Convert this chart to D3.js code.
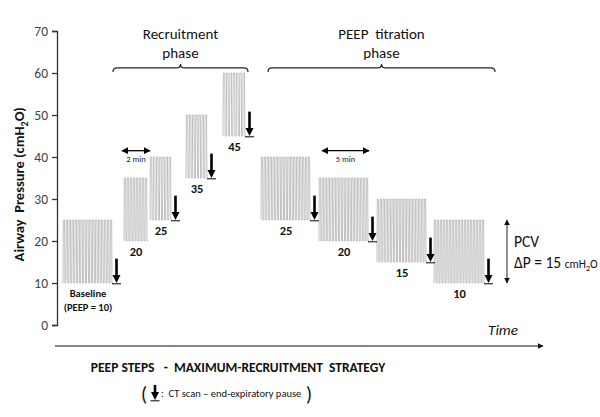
<!DOCTYPE html>
<html><head><meta charset="utf-8">
<script src="https://cdn.jsdelivr.net/npm/d3@7"></script>
<style>
html,body{margin:0;padding:0;background:#fff;}
svg{display:block;font-family:Carlito,Calibri,Lato,"Open Sans",sans-serif;}
text{white-space:pre;}
</style></head>
<body>
<script>
// ---- data ----
const yTicks = [0, 10, 20, 30, 40, 50, 60, 70];
const blockLabels = ["Baseline", "20", "25", "35", "45", "25", "20", "15", "10"];
const peepValues = [10, 20, 25, 35, 45, 25, 20, 15, 10];
const peakValues = [25, 35, 40, 50, 60, 40, 35, 30, 25];
const blockStart = [0.6, 6.7, 9.3, 12.9, 16.6, 20.4, 26.2, 32.0, 37.7];
const blockEnd = [5.6, 9.1, 11.5, 15.1, 18.9, 25.4, 31.2, 37.0, 42.8];
const breaths = [17, 8, 7, 7, 7, 17, 17, 17, 17];
const ctScan = [true, false, true, true, true, true, true, true, true];
const phaseNames = [["Recruitment", "phase"], ["PEEP  titration", "phase"]];
const phaseStart = [5.6, 21.1];
const phaseEnd = [19.1, 43.8];
const durLabels = ["2 min", "5 min"];
const durStart = [6.5, 26.5];
const durEnd = [9.3, 31.2];

const W = 600, H = 417;
const svg = d3.select("body").append("svg").attr("width", W).attr("height", H);

const x = d3.scaleLinear().domain([0, 48.6]).range([57, 543]);
const y = d3.scaleLinear().domain([0, 70]).range([325, 31]);

// y axis
const yAxis = d3.axisLeft(y).tickValues(yTicks).tickSize(5).tickPadding(4);
const gy = svg.append("g").attr("transform", `translate(${x(0)},0)`).call(yAxis);
gy.select(".domain").attr("stroke", "#333").attr("stroke-width", 1.3);
gy.selectAll(".tick line").attr("stroke", "#333").attr("stroke-width", 1.3);
gy.selectAll(".tick text").attr("fill", "#444").style("font-size", "13.5px").style("font-family", "Carlito,Calibri,Lato,sans-serif");

// y label
const yl = svg.append("text").attr("transform", `translate(24,${y(33.5)}) rotate(-90)`)
  .attr("text-anchor", "middle").attr("font-weight", "bold").attr("font-size", 14.5).attr("fill", "#111");
yl.append("tspan").text("Airway  Pressure (cmH");
yl.append("tspan").attr("font-size", 10).attr("dy", 4).text("2");
yl.append("tspan").attr("dy", -4).text("O)");

// waveforms
const g = svg.append("g");
peepValues.forEach((p, i) => {
  const x0 = x(blockStart[i]), x1 = x(blockEnd[i]);
  const n = breaths[i];
  const per = (x1 - x0) / n;
  const lo = y(p), hi = y(peakValues[i]);
  const path = d3.path();
  path.moveTo(x0, lo);
  for (let k = 0; k < n; k++) {
    const a = x0 + k * per;
    path.lineTo(a + per * 0.1, hi);
    path.lineTo(a + per * 0.55, hi);
    path.lineTo(a + per * 0.65, lo);
    path.lineTo(a + per, lo);
  }
  g.append("path").attr("d", path.toString()).attr("fill", "none")
    .attr("stroke", "#b0b0b0").attr("stroke-width", 0.8);

  // label
  const cx = (x0 + x1) / 2;
  if (i === 0) {
    svg.append("text").attr("x", cx).attr("y", lo + 14).attr("text-anchor", "middle")
      .attr("font-weight", "bold").attr("font-size", 10.5).attr("fill", "#111").text(blockLabels[i]);
    svg.append("text").attr("x", cx).attr("y", lo + 28).attr("text-anchor", "middle")
      .attr("font-weight", "bold").attr("font-size", 10.5).attr("fill", "#111").text("(PEEP = 10)");
  } else {
    svg.append("text").attr("x", cx).attr("y", lo + 15).attr("text-anchor", "middle")
      .attr("font-weight", "bold").attr("font-size", 12.5).attr("fill", "#111").text(blockLabels[i]);
  }

  // CT scan arrow
  if (ctScan[i]) {
    const ax = x1 + 3.5;
    drawCT(ax, lo, y(p + 5.8));
  }
});

function drawCT(ax, base, top) {
  svg.append("line").attr("x1", ax).attr("x2", ax).attr("y1", top).attr("y2", base - 6)
    .attr("stroke", "#000").attr("stroke-width", 2.6);
  svg.append("path").attr("d", `M${ax - 4},${base - 8}L${ax + 4},${base - 8}L${ax},${base}Z`).attr("fill", "#000");
  svg.append("line").attr("x1", ax - 4.5).attr("x2", ax + 4.5).attr("y1", base + 0.8).attr("y2", base + 0.8)
    .attr("stroke", "#000").attr("stroke-width", 1);
}

// phase braces
phaseNames.forEach((nm, i) => {
  const a = x(phaseStart[i]), b = x(phaseEnd[i]), m = (a + b) / 2;
  const yb = y(61.2), r = 4;
  const d = `M${a},${yb + r} Q${a},${yb} ${a + r},${yb} L${m - r},${yb} Q${m},${yb} ${m},${yb - r} Q${m},${yb} ${m + r},${yb} L${b - r},${yb} Q${b},${yb} ${b},${yb + r}`;
  svg.append("path").attr("d", d).attr("fill", "none").attr("stroke", "#222").attr("stroke-width", 1.2);
  svg.append("text").attr("x", m).attr("y", y(68.2)).attr("text-anchor", "middle")
    .attr("font-size", 15).attr("fill", "#111").text(nm[0]);
  svg.append("text").attr("x", m).attr("y", y(63.6)).attr("text-anchor", "middle")
    .attr("font-size", 15).attr("fill", "#111").text(nm[1]);
});

// duration markers
const defs = svg.append("defs");
defs.append("marker").attr("id", "ah").attr("viewBox", "0 0 10 10").attr("refX", 9).attr("refY", 5)
  .attr("markerWidth", 7).attr("markerHeight", 7).attr("orient", "auto-start-reverse").attr("markerUnits", "userSpaceOnUse")
  .append("path").attr("d", "M0,0L10,5L0,10Z").attr("fill", "#000");
durLabels.forEach((lab, i) => {
  const a = x(durStart[i]), b = x(durEnd[i]);
  svg.append("line").attr("x1", a).attr("x2", b).attr("y1", y(41.5)).attr("y2", y(41.5))
    .attr("stroke", "#000").attr("stroke-width", 1.3)
    .attr("marker-start", "url(#ah)").attr("marker-end", "url(#ah)");
  svg.append("text").attr("x", (a + b) / 2).attr("y", y(38.8)).attr("text-anchor", "middle")
    .attr("font-size", 8.5).attr("fill", "#222").text(lab);
});

// PCV arrow (delta P from PEEP 10 to peak 25)
defs.append("marker").attr("id", "ah2").attr("viewBox", "0 0 10 10").attr("refX", 9).attr("refY", 5)
  .attr("markerWidth", 6).attr("markerHeight", 6).attr("orient", "auto-start-reverse").attr("markerUnits", "userSpaceOnUse")
  .append("path").attr("d", "M0,0L10,5L0,10Z").attr("fill", "#111");
const pcvX = x(45.0);
svg.append("line").attr("x1", pcvX).attr("x2", pcvX).attr("y1", y(peakValues[8])).attr("y2", y(peepValues[8]))
  .attr("stroke", "#777").attr("stroke-width", 1.6)
  .attr("marker-start", "url(#ah2)").attr("marker-end", "url(#ah2)");
svg.append("text").attr("x", pcvX + 7).attr("y", y(18.5)).attr("font-size", 15.5).attr("fill", "#111").text("PCV");
const dp = svg.append("text").attr("x", pcvX + 7).attr("y", y(13.5)).attr("font-size", 15.5).attr("fill", "#111");
dp.append("tspan").text("ΔP = 15 ");
dp.append("tspan").attr("font-size", 11.5).text("cmH");
dp.append("tspan").attr("font-size", 8).attr("dy", 3).text("2");
dp.append("tspan").attr("font-size", 11.5).attr("dy", -3).text("O");

// time axis
const ty = 346;
svg.append("line").attr("x1", x(-0.2)).attr("x2", x(48.6)).attr("y1", ty).attr("y2", ty)
  .attr("stroke", "#111").attr("stroke-width", 1.1).attr("marker-end", "url(#ah2)");
svg.append("text").attr("x", x(44.6)).attr("y", 335).attr("text-anchor", "middle")
  .attr("font-style", "italic").attr("font-size", 15).attr("fill", "#111").text("Time");

// bottom texts
svg.append("text").attr("x", 238).attr("y", 372).attr("text-anchor", "middle")
  .attr("font-weight", "bold").attr("font-size", 13.5).attr("fill", "#111")
  .text("PEEP STEPS   -  MAXIMUM-RECRUITMENT  STRATEGY");
svg.append("text").attr("x", 144).attr("y", 401).attr("text-anchor", "middle")
  .attr("font-size", 20).attr("fill", "#111").text("(");
drawCT(155, 400, 385);
svg.append("text").attr("x", 161).attr("y", 397).attr("font-size", 10.5).attr("fill", "#111")
  .text(":  CT scan – end-expiratory pause");
svg.append("text").attr("x", 309).attr("y", 401).attr("text-anchor", "middle")
  .attr("font-size", 20).attr("fill", "#111").text(")");
</script>
</body></html>
